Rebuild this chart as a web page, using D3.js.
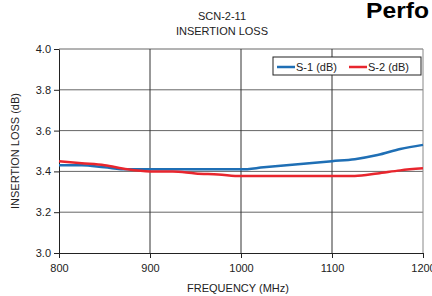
<!DOCTYPE html>
<meta charset="utf-8">
<head>
<style>
  body { margin: 0; background: #fff; }
  svg { font-family: "Liberation Sans", Arial, sans-serif; }
  .axis text { font-size: 11px; fill: #222; }
  .axis .domain { stroke: #222; }
  .axis line { stroke: #222; }
</style>
</head>
<body>
<script src="https://d3js.org/d3.v7.min.js"></script>
<script>

var freq = [800, 825, 850, 875, 900, 925, 950, 975, 1000, 1025, 1050, 1075, 1100, 1125, 1150, 1175, 1200];
var s1 = [3.43, 3.43, 3.42, 3.41, 3.41, 3.41, 3.41, 3.41, 3.41, 3.42, 3.43, 3.44, 3.45, 3.46, 3.48, 3.51, 3.53];
var s2 = [3.45, 3.44, 3.43, 3.41, 3.40, 3.40, 3.39, 3.385, 3.377, 3.377, 3.377, 3.377, 3.377, 3.378, 3.39, 3.405, 3.415];
var xTicks = [800, 900, 1000, 1100, 1200];
var yTicks = [3.0, 3.2, 3.4, 3.6, 3.8, 4.0];
var seriesNames = ["S-1 (dB)", "S-2 (dB)"];
var colors = ["#1f6fb5", "#e8262e"];

var margin = {top: 49, left: 59},
    width = 364,
    height = 204;

var svg = d3.select("body").append("svg")
    .attr("width", 432)
    .attr("height", 296);

var x = d3.scaleLinear().domain([800, 1200]).range([0, width]);
var y = d3.scaleLinear().domain([3.0, 4.0]).range([height, 0]);

// titles
svg.append("text").attr("x", 222).attr("y", 20).attr("text-anchor", "middle")
    .style("font-size", "11px").style("fill", "#222").text("SCN-2-11");
svg.append("text").attr("x", 222).attr("y", 35).attr("text-anchor", "middle")
    .style("font-size", "11px").style("fill", "#222").text("INSERTION LOSS");
svg.append("text").attr("x", 366).attr("y", 18)
    .attr("textLength", 63).attr("lengthAdjust", "spacingAndGlyphs")
    .style("font-size", "22px").style("font-weight", "bold").style("fill", "#000").text("Perfo");

var g = svg.append("g").attr("transform", "translate(" + margin.left + "," + margin.top + ")");

// grid
g.selectAll(".hgrid").data(yTicks.slice(1)).enter().append("line")
    .attr("x1", 0).attr("x2", width)
    .attr("y1", function(d) { return y(d); }).attr("y2", function(d) { return y(d); })
    .style("stroke", "#666").style("stroke-width", 1);
g.selectAll(".vgrid").data(xTicks.slice(1)).enter().append("line")
    .attr("y1", 0).attr("y2", height)
    .attr("x1", function(d) { return x(d); }).attr("x2", function(d) { return x(d); })
    .style("stroke", function(d) { return d == 1200 ? "#888" : "#333"; }).style("stroke-width", 1);

// axes
g.append("g").attr("class", "axis")
    .attr("transform", "translate(0," + height + ")")
    .call(d3.axisBottom(x).tickValues(xTicks).tickFormat(d3.format("d")).tickSize(5).tickSizeOuter(0).tickPadding(6));
g.append("g").attr("class", "axis")
    .call(d3.axisLeft(y).tickValues(yTicks).tickFormat(d3.format(".1f")).tickSize(5).tickSizeOuter(0).tickPadding(3));

// axis labels
svg.append("text").attr("x", margin.left + width / 2 - 3).attr("y", 292).attr("text-anchor", "middle")
    .style("font-size", "11px").style("fill", "#222").text("FREQUENCY (MHz)");
svg.append("text").attr("transform", "translate(19," + (margin.top + height / 2) + ") rotate(-90)")
    .attr("text-anchor", "middle")
    .style("font-size", "11px").style("fill", "#222").text("INSERTION LOSS (dB)");

// lines
var line = d3.line().curve(d3.curveMonotoneX)
    .x(function(d, i) { return x(freq[i]); })
    .y(function(d) { return y(d); });
[s1, s2].forEach(function(s, i) {
  g.append("path").datum(s)
    .attr("d", line)
    .style("fill", "none")
    .style("stroke", colors[i])
    .style("stroke-width", 2.5);
});

// legend
var lg = svg.append("g").attr("transform", "translate(273,57)");
lg.append("rect").attr("width", 148).attr("height", 18)
    .style("fill", "#fff").style("stroke", "#222").style("stroke-width", 1);
var lx = [4, 76];
seriesNames.forEach(function(n, i) {
  lg.append("line").attr("x1", lx[i]).attr("x2", lx[i] + 18).attr("y1", 10).attr("y2", 10)
    .style("stroke", colors[i]).style("stroke-width", 2.5);
  lg.append("text").attr("x", lx[i] + 19).attr("y", 13.5)
    .style("font-size", "11px").style("fill", "#222").text(n);
});

</script>
</body>
